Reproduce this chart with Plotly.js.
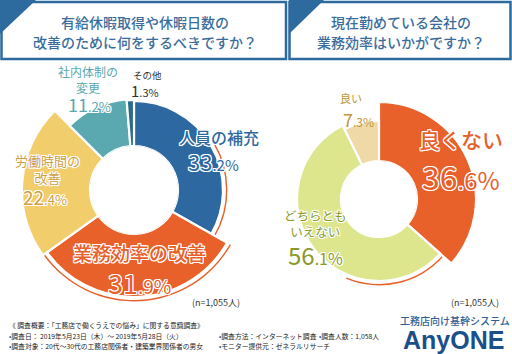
<!DOCTYPE html>
<html><head><meta charset="utf-8">
<script src="https://cdn.plot.ly/plotly-3.0.1.min.js"></script>
<style>html,body{margin:0;padding:0;background:#fff}#chart{width:512px;height:354px}</style>
</head><body><div id="chart"></div>
<script>
// ---- data ----
const leftLabels = ['人員の補充','業務効率の改善','労働時間の<br>改善','社内体制の<br>変更','その他'];
const leftValues = [33.2, 31.9, 22.4, 11.2, 1.3];
const rightLabels = ['良くない','どちらとも<br>いえない','良い'];
const rightValues = [36.6, 56.1, 7.3];
const sampleText = '(n=1,055人)';
const titleLeft = ['有給休暇取得や休暇日数の','改善のために何をするべきですか？'];
const titleRight = ['現在勤めている会社の','業務効率はいかがですか？'];
const footerCol1 = ['《 調査概要：「工務店で働くうえでの悩み」に関する意識調査》','•調査日： 2019年5月23日（木）～ 2019年5月28日（火）','•調査対象：20代～30代の工務店関係者・建築業界関係者の男女'];
const footerCol2 = ['•調査方法：インターネット調査','•モニター提供元：ゼネラルリサーチ'];
const footerCol3 = ['•調査人数：1,058人'];
const logoSub = '工務店向け基幹システム';
const logoMain = 'AnyONE';

// ---- styles ----
const W = 512, H = 354;
const X = p => p / W, Y = p => 1 - p / H;
const FONT = '"Noto Sans CJK JP", "Noto Sans", sans-serif';
const WHITE_OUT = '1px 0 0 #fff, -1px 0 0 #fff, 0 1px 0 #fff, 0 -1px 0 #fff, 1px 1px 0 #fff, -1px -1px 0 #fff, 1px -1px 0 #fff, -1px 1px 0 #fff';

const L = {cx:134, cy:190, R:120, hole:44,
  colors:['#2d69a0','#e8602a','#f2cd6b','#5aa9b0','#276c88'],
  radius:[89,107,112,91,90]};
const Rt = {cx:379, cy:199, R:105, hole:38,
  colors:['#e8602a','#dde58d','#efd9a6'],
  radius:[97,82,78]};

function angles(values){
  const tot = values.reduce((a,b)=>a+b,0);
  let acc = 0; const start=[], end=[];
  values.forEach(v=>{ start.push(acc/tot*360); acc+=v; end.push(acc/tot*360); });
  return {start, end};
}
function sliceTrace(values, st, sub){
  const a = angles(values);
  return {type:'barpolar', subplot:sub,
    theta: a.start.map((s,i)=>(s+a.end[i])/2),
    width: a.start.map((s,i)=>a.end[i]-s),
    r: st.radius.map(r=>r-st.hole),
    marker:{color:st.colors, line:{color:'#fff', width:2.2}},
    hoverinfo:'skip', showlegend:false};
}
function swooshTrace(sub, st, segs){
  return {type:'barpolar', subplot:sub,
    theta: segs.map(s=>(s[0]+s[1])/2), width: segs.map(s=>s[1]-s[0]),
    base: segs.map(s=>s[2]-st.hole+3), r: segs.map(()=>1.4),
    marker:{color:'#e8602a', line:{width:0}}, hoverinfo:'skip', showlegend:false};
}
const la = angles(leftValues), ra = angles(rightValues);
const leftSwoosh = swooshTrace('polar', L, [
  [(la.start[0]+la.end[0])/2, la.end[0], L.radius[0]],
  [la.start[1], la.end[1], L.radius[1]]]);
const rightSwoosh = swooshTrace('polar2', Rt, [
  [ra.start[1], ra.start[1] + (ra.end[1]-ra.start[1])*0.35, Rt.radius[1]]]);

function polarLayout(st){
  return {domain:{x:[X(st.cx-st.R), X(st.cx+st.R)], y:[Y(st.cy+st.R), Y(st.cy-st.R)]},
    hole: st.hole/st.R, bgcolor:'rgba(0,0,0,0)', barmode:'overlay',
    radialaxis:{visible:false, range:[0, st.R-st.hole]},
    angularaxis:{visible:false, rotation:90, direction:'clockwise'}};
}

function pct(v, small){
  const s = v.toFixed(1).split('.');
  return s[0] + '<span style="font-size:'+small+'px">.'+s[1]+'%</span>';
}
function ann(text, px, py, size, color, opts){
  const a = {text, x:X(px), y:Y(py), xref:'paper', yref:'paper', showarrow:false,
    xanchor:'center', yanchor:'middle', borderpad:0, font:{family:FONT, size, color}};
  if (opts) { if (opts.xanchor) a.xanchor = opts.xanchor; if (opts.font) Object.assign(a.font, opts.font); }
  return a;
}
const outlined = (a)=>{ a.font.shadow = WHITE_OUT; return a; };
const TITLE = '#3a6d9c';
const tf = {font:{weight:500}};

const annotations = [
  ann(titleLeft[0], 145, 22, 14, TITLE, tf), ann(titleLeft[1], 145, 42, 14, TITLE, tf),
  ann(titleRight[0], 401, 22, 14, TITLE, tf), ann(titleRight[1], 401, 42, 14, TITLE, tf),
  // left labels
  outlined(ann(leftLabels[0], 219, 137, 16, L.colors[0], tf)),
  outlined(ann(pct(leftValues[0],15), 213, 161, 22, L.colors[0])),
  outlined(ann(leftLabels[1], 139, 252, 19, L.colors[1], tf)),
  outlined(ann(pct(leftValues[1],19), 139, 282, 27, L.colors[1])),
  outlined(ann(leftLabels[2], 47, 169, 13, '#cfa044')),
  outlined(ann(pct(leftValues[2],13), 45, 196, 19, '#cfa044')),
  outlined(ann(leftLabels[3], 88, 79, 12, L.colors[3])),
  outlined(ann(pct(leftValues[3],13), 89, 104, 18, L.colors[3])),
  ann(leftLabels[4], 147, 75, 9.5, '#333'),
  ann(pct(leftValues[4],11), 145, 90, 15, '#333'),
  ann(sampleText, 216, 302, 9, '#333'),
  // right labels
  outlined(ann(rightLabels[0], 461, 139, 21, Rt.colors[0], tf)),
  outlined(ann(pct(rightValues[0],24), 461, 176, 32, Rt.colors[0])),
  outlined(ann(rightLabels[1], 315, 223, 12.5, '#8a9a2a')),
  outlined(ann(pct(rightValues[1],16), 315, 254, 24, '#8a9a2a')),
  ann(rightLabels[2], 351, 98, 11, '#c0953a'),
  ann(pct(rightValues[2],12), 358, 119, 18, '#c0953a'),
  ann(sampleText, 475, 302, 9, '#333'),
  // logo
  ann(logoSub, 455, 320, 10, '#2d5f95', tf),
  ann(logoMain, 453, 340, 25, '#1b4f8c', {font:{family:'"Liberation Sans", Arial, sans-serif', weight:700}})
];
footerCol1.forEach((t,i)=>annotations.push(ann(t, 8, 325+i*10.5, 6.8, '#222', {xanchor:'left'})));
annotations.push(ann(footerCol2[0], 218, 335.5, 6.8, '#222', {xanchor:'left'}));
annotations.push(ann(footerCol2[1], 218, 346, 6.8, '#222', {xanchor:'left'}));
annotations.push(ann(footerCol3[0], 318, 335.5, 6.8, '#222', {xanchor:'left'}));

const BOX = '#2d6a9e';
const shapes = [
  {type:'rect', xref:'paper', yref:'paper', x0:X(1.5), x1:X(286), y0:Y(59), y1:Y(2), line:{color:BOX, width:2.5}, fillcolor:'#fff'},
  {type:'path', xref:'paper', yref:'paper', path:`M ${X(0)} ${Y(0)} L ${X(36)} ${Y(0)} L ${X(0)} ${Y(34)} Z`, fillcolor:BOX, line:{width:0}},
  {type:'rect', xref:'paper', yref:'paper', x0:X(289.5), x1:X(510.5), y0:Y(59), y1:Y(2), line:{color:BOX, width:2.5}, fillcolor:'#fff'},
  {type:'path', xref:'paper', yref:'paper', path:`M ${X(289)} ${Y(0)} L ${X(324)} ${Y(0)} L ${X(289)} ${Y(34)} Z`, fillcolor:BOX, line:{width:0}}
];

const data = [leftSwoosh, sliceTrace(leftValues, L, 'polar'), rightSwoosh, sliceTrace(rightValues, Rt, 'polar2')];
const layout = {width:W, height:H, margin:{l:0,r:0,t:0,b:0}, paper_bgcolor:'#fff',
  polar: polarLayout(L), polar2: polarLayout(Rt), showlegend:false,
  annotations, shapes, font:{family:FONT}};
Plotly.newPlot('chart', data, layout, {staticPlot:true});
</script></body></html>
